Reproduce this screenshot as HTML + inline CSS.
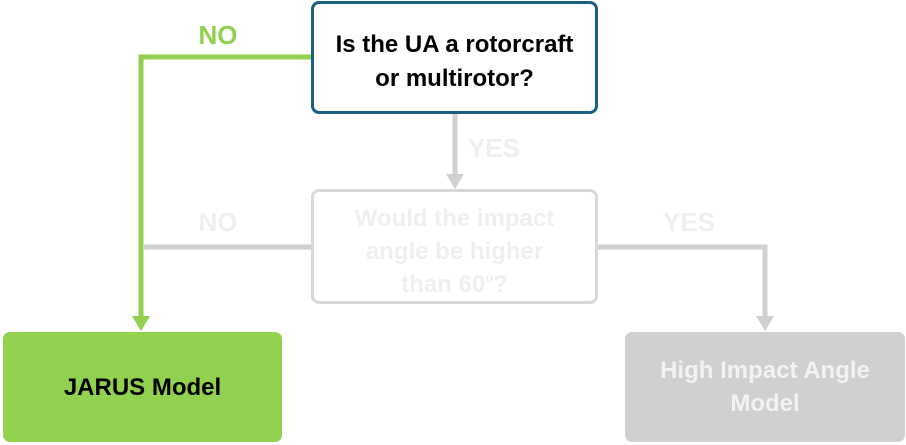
<!DOCTYPE html>
<html><head><style>
body{margin:0;width:906px;height:445px;background:#fff;overflow:hidden;position:relative;font-family:"Liberation Sans",sans-serif;font-weight:bold}
.box{position:absolute;box-sizing:border-box;border-radius:8px;display:flex;align-items:center;justify-content:center;text-align:center;font-size:24px;line-height:33px}
.lbl{position:absolute;font-size:26px;transform:translateX(-50%)}
</style></head><body>
<svg width="906" height="445" style="position:absolute;left:0;top:0">
<polyline points="312,57 141,57 141,318" fill="none" stroke="#92d050" stroke-width="5"/>
<polygon points="132,316 150,316 141,331" fill="#92d050"/>
<line x1="455" y1="113" x2="455" y2="176" stroke="#d0d0d0" stroke-width="5"/>
<polygon points="446,174 464,174 455,189" fill="#d0d0d0"/>
<line x1="312" y1="247" x2="144" y2="247" stroke="#d0d0d0" stroke-width="5"/>
<polyline points="597,247 765,247 765,318" fill="none" stroke="#d0d0d0" stroke-width="5"/>
<polygon points="756,316 774,316 765,331" fill="#d0d0d0"/>
</svg>
<div class="box" style="left:311px;top:1px;width:287px;height:113px;border:3px solid #1a6080;background:#fff;color:#000;padding-top:8px;line-height:34px"><div>Is the UA a rotorcraft<br>or multirotor?</div></div>
<div class="box" style="left:311px;top:189px;width:287px;height:115px;border:3px solid #d9d9d9;background:#fff;color:#efefef;padding-top:10px"><div>Would the impact<br>angle be higher<br>than 60<sup style="font-size:13px;line-height:0;vertical-align:10px">o</sup>?</div></div>
<div class="box" style="left:3px;top:332px;width:279px;height:110px;background:#92d050;color:#000;border-radius:7px"><div>JARUS Model</div></div>
<div class="box" style="left:625px;top:332px;width:280px;height:110px;background:#d0d0d0;color:#f2f2f2;border-radius:7px"><div>High Impact Angle<br>Model</div></div>
<div class="lbl" style="left:218px;top:20px;color:#92d050">NO</div>
<div class="lbl" style="left:494px;top:133px;color:#efefef">YES</div>
<div class="lbl" style="left:218px;top:207px;color:#efefef">NO</div>
<div class="lbl" style="left:689px;top:207px;color:#efefef">YES</div>
</body></html>
